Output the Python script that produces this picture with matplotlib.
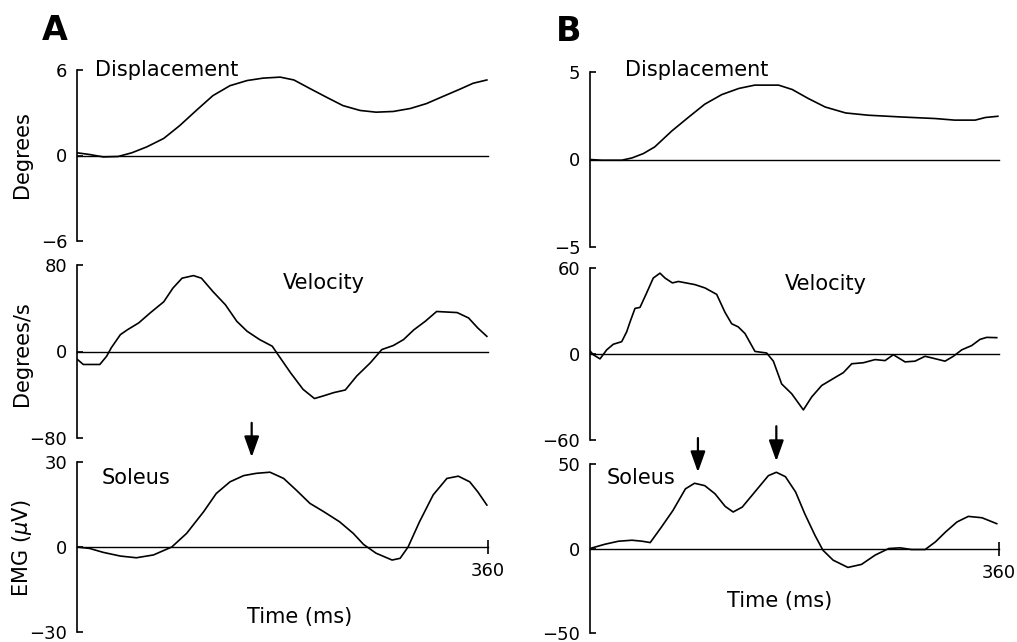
import numpy as np
import matplotlib
matplotlib.use("Agg")
import matplotlib.pyplot as plt

plt.rcParams['font.family'] = ['DejaVu Sans']
plt.rcParams['mathtext.fontset'] = 'dejavusans'

W, H = 1017, 642

# ---- panel A ----
a_disp_t = [0, 11, 23, 36, 48, 61, 76, 90, 105, 119, 134, 149, 163, 178, 190,
            204, 219, 233, 248, 262, 277, 292, 306, 321, 335, 347, 359]
a_disp = [0.19, 0.07, -0.1, -0.07, 0.19, 0.6, 1.2, 2.1, 3.2, 4.2, 4.9, 5.26, 5.43, 5.5, 5.3,
          4.7, 4.07, 3.5, 3.16, 3.04, 3.09, 3.3, 3.64, 4.16, 4.64, 5.07, 5.3]

a_vel_t = [0, 5.5, 20, 26, 30, 38, 44, 54, 64, 76, 84, 92, 102, 109, 119, 130, 140,
           149, 160, 171, 176, 187, 198, 208, 216, 225, 235, 245, 257, 267, 277,
           286, 295, 305, 315, 333, 343, 351, 359]
a_vel = [-7, -12, -12, -4.3, 3.4, 15.6, 20, 26.4, 35.6, 46, 58.6, 67.8, 70.2, 67.8,
         55.5, 43.2, 27.9, 18.7, 11, 4.9, -2.8, -19.6, -35, -43.5, -41, -38, -35.6,
         -22.7, -10.4, 1.8, 5.5, 11, 20, 27.9, 37, 36, 31, 21.8, 14]

a_emg_t = [0, 11, 23, 38, 52, 67, 83, 96, 111, 122, 134, 146, 157, 169, 181, 192,
           204, 216, 230, 242, 251, 262, 276, 283, 290, 300, 312, 324, 334, 344,
           351, 359]
a_emg = [0, -0.5, -1.9, -3.2, -3.8, -2.8, 0, 4.8, 12.5, 18.9, 23, 25.2, 26, 26.4,
         24.2, 20.1, 15.4, 12.5, 8.9, 4.8, 0.9, -2.2, -4.6, -4, 0, 8.9, 18.4, 24.2,
         25, 23, 19.5, 14.8]

# ---- panel B ----
b_disp_t = [0, 10, 28, 37, 47, 57, 72, 87, 101, 116, 131, 145, 166, 178, 192,
            207, 225, 245, 274, 304, 321, 339, 348, 359]
b_disp = [0, -0.04, -0.04, 0.09, 0.34, 0.72, 1.63, 2.43, 3.16, 3.71, 4.06, 4.25,
          4.25, 4.0, 3.49, 3.0, 2.66, 2.53, 2.43, 2.34, 2.25, 2.25, 2.4, 2.47]

b_vel_t = [0, 2.9, 8.8, 14.7, 20.5, 27.9, 32.3, 35.2, 39.6, 44, 49.9, 55.7, 61.6,
           66, 72.5, 77.8, 92.4, 101.2, 111.5, 118.8, 124.7, 130.5, 136.4, 145.2,
           155.5, 161.4, 168.7, 177.5, 187.8, 195.1, 203.9, 215.7, 223, 230.4,
           240.6, 250.9, 259.7, 267, 277.3, 286.1, 294.9, 300.8, 312.5, 319.8,
           327.2, 336, 343.3, 349.2, 358]
b_vel = [2.2, -0.5, -3.4, 2.9, 6.8, 8.6, 15.5, 22.3, 31.8, 32.5, 42.7, 53, 56.4,
         53, 49.6, 50.6, 48.4, 46.1, 41.6, 29.1, 21.1, 18.9, 14.3, 1.8,
         0.7, -5, -20.9, -27.7, -39, -30, -22, -16.4, -13, -6.8,
         -6.1, -3.9, -4.6, -0.5, -5.5, -5, -1.6, -2.7, -5, -1.6,
         2.9, 5.9, 10.2, 11.6, 11.4]

b_emg_t = [0, 13, 25, 37, 46, 53, 63, 73, 84, 92, 101, 110, 119, 126, 134, 145,
           157, 164, 172, 181, 189, 198, 205, 214, 227, 239, 251, 263, 273, 283,
           295, 304, 313, 323, 333, 345, 358]
b_emg = [0, 2.5, 4.3, 4.9, 4.3, 3.5, 12.8, 22.5, 35.3, 38.6, 37.2, 32.4, 24.9,
         21.6, 24.5, 33.4, 43.1, 45.1, 42.5, 33.4, 20.6, 7.8, -1, -6.9, -11.2,
         -9.4, -3.9, 0, 0.4, -0.6, -0.6, 3.9, 9.8, 15.7, 19, 18.2, 14.7]

a_arrow_t = [153]
b_arrow_t = [95, 164]

fig = plt.figure(figsize=(W / 100, H / 100), dpi=100)


def add_panel(x0, x1, ytop, ybot, lim, t, y, last=False):
    ax = fig.add_axes([x0 / W, 1 - ybot / H, (x1 - x0) / W, (ybot - ytop) / H])
    ax.plot(t, y, color='black', lw=1.2)
    ax.set_xlim(0, 360)
    ax.set_ylim(-lim, lim)
    for s in ['top', 'right']:
        ax.spines[s].set_visible(False)
    ax.spines['bottom'].set_position(('data', 0))
    ax.spines['bottom'].set_bounds(0, 360)
    ax.spines['left'].set_linewidth(1.2)
    ax.spines['bottom'].set_linewidth(1.0)
    ax.set_yticks([-lim, 0, lim])
    ax.set_yticklabels(['\u2212%d' % lim, '0', '%d' % lim])
    ax.tick_params(axis='y', direction='in', length=4, width=1.2, labelsize=13, pad=7)
    if last:
        ax.set_xticks([360])
        ax.tick_params(axis='x', direction='inout', length=10, width=1.2,
                       labelsize=13, pad=6)
    else:
        ax.set_xticks([])
    ax.patch.set_visible(False)
    return ax


def label(x, y, s, **kw):
    fig.text(x / W, 1 - y / H, s, va='baseline', **kw)


# panel A
add_panel(77, 488, 70, 241, 6, a_disp_t, a_disp)
add_panel(77, 488, 265, 438, 80, a_vel_t, a_vel)
ax_a = add_panel(77, 488, 462, 632, 30, a_emg_t, a_emg, last=True)

# panel B
add_panel(590, 999, 72, 247, 5, b_disp_t, b_disp)
add_panel(590, 999, 268, 440, 60, b_vel_t, b_vel)
ax_b = add_panel(590, 999, 464, 633, 50, b_emg_t, b_emg, last=True)

arrow = dict(arrowstyle='-|>,head_length=0.7,head_width=0.25', color='black', lw=1.6,
             mutation_scale=18)
for t in a_arrow_t:
    ax_a.annotate('', xy=(t, 30.7), xytext=(t, 44.8), arrowprops=arrow,
                  annotation_clip=False)
ax_b.annotate('', xy=(b_arrow_t[0], 43.5), xytext=(b_arrow_t[0], 67), arrowprops=arrow,
              annotation_clip=False)
ax_b.annotate('', xy=(b_arrow_t[1], 50), xytext=(b_arrow_t[1], 74), arrowprops=arrow,
              annotation_clip=False)

label(42, 40, 'A', fontsize=24, fontweight='bold')
label(556, 41, 'B', fontsize=24, fontweight='bold')

label(95, 76, 'Displacement', fontsize=15)
label(283, 289, 'Velocity', fontsize=15)
label(102, 484, 'Soleus', fontsize=15)
label(247, 623, 'Time (ms)', fontsize=15)

label(625, 76, 'Displacement', fontsize=15)
label(785, 290, 'Velocity', fontsize=15)
label(607, 484, 'Soleus', fontsize=15)
label(727, 607, 'Time (ms)', fontsize=15)

fig.text(22 / W, 1 - 155 / H, 'Degrees', rotation=90, ha='center', va='center', fontsize=15)
fig.text(22 / W, 1 - 354 / H, 'Degrees/s', rotation=90, ha='center', va='center', fontsize=15)
fig.text(22 / W, 1 - 548 / H, r'EMG ($\mu$V)', rotation=90, ha='center', va='center',
         fontsize=15)

fig.savefig('out.png', dpi=100)
